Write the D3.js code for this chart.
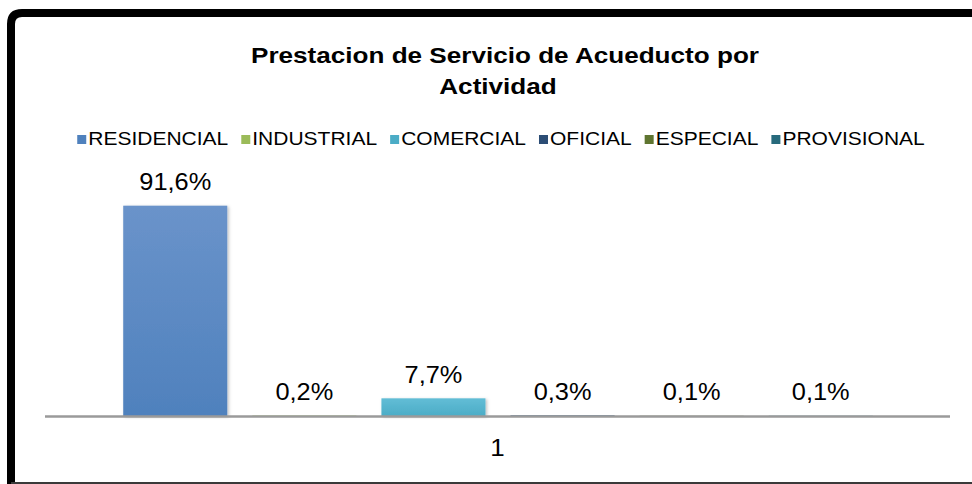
<!DOCTYPE html>
<html>
<head>
  <meta charset="utf-8">
  <title>Prestacion de Servicio de Acueducto por Actividad</title>
  <script src="https://d3js.org/d3.v7.min.js"></script>
  <style>
    body { margin: 0; background: #fff; }
    text { font-family: "Liberation Sans", Arial, sans-serif; fill: #000; }
  </style>
</head>
<body>
<script>
  const width = 972;
  const height = 484;

  // data
  const categories = ["1"];
  const series = ["RESIDENCIAL", "INDUSTRIAL", "COMERCIAL", "OFICIAL", "ESPECIAL", "PROVISIONAL"];
  const values = [91.6, 0.2, 7.7, 0.3, 0.1, 0.1];
  const colors = ["#4F81BD", "#9BBB59", "#4BACC6", "#2C4D75", "#5F7530", "#276A7C"];
  const lightColors = ["#6A93CA", "#AECB72", "#62BDD6", "#3F6592", "#778F45", "#3A8497"];
  const titleLines = ["Prestacion de Servicio de Acueducto por", "Actividad"];

  const fmt = v => d3.format(".1f")(v).replace(".", ",") + "%";

  const svg = d3.select("body")
    .append("svg")
    .attr("width", width)
    .attr("height", height);

  const defs = svg.append("defs");
  series.forEach((s, i) => {
    const g = defs.append("linearGradient")
      .attr("id", "grad" + i)
      .attr("x1", 0).attr("y1", 0).attr("x2", 0).attr("y2", 1);
    g.append("stop").attr("offset", "0%").attr("stop-color", lightColors[i]);
    g.append("stop").attr("offset", "100%").attr("stop-color", colors[i]);
  });
  defs.append("filter").attr("id", "shadow")
    .attr("x", "-10%").attr("y", "-10%").attr("width", "130%").attr("height", "130%")
    .append("feDropShadow")
    .attr("dx", 1.5).attr("dy", 1).attr("stdDeviation", 1.5)
    .attr("flood-color", "#000").attr("flood-opacity", 0.25);

  // frame (runs off the right edge like the original)
  svg.append("path")
    .attr("d", "M11,490 L11,24 Q11,13 22,13 L990,13")
    .attr("fill", "none")
    .attr("stroke", "#000")
    .attr("stroke-width", 8);
  svg.append("line")
    .attr("x1", 11).attr("x2", width)
    .attr("y1", 483).attr("y2", 483)
    .attr("stroke", "#3a3a3a")
    .attr("stroke-width", 2);

  // horizontally stretched text like the source picture
  function stretchText(sel, x, y, sx, anchor) {
    return sel.append("text")
      .attr("transform", `translate(${x},${y}) scale(${sx},1)`)
      .attr("text-anchor", anchor || "middle");
  }

  // title
  stretchText(svg, 505, 62.5, 1.16)
    .attr("font-size", 22.5).attr("font-weight", "bold")
    .text(titleLines[0]);
  stretchText(svg, 498, 93.5, 1.16)
    .attr("font-size", 22.5).attr("font-weight", "bold")
    .text(titleLines[1]);

  // scales
  const x0 = d3.scaleBand()
    .domain(categories)
    .range([45, 950]);

  const groupCenter = x0(categories[0]) + x0.bandwidth() / 2 + 0.5;
  const step = 129.1;
  const x1 = d3.scaleBand()
    .domain(series)
    .range([groupCenter - 3 * step, groupCenter + 3 * step])
    .paddingInner(0.194)
    .paddingOuter(0.097);

  const y = d3.scaleLinear()
    .domain([0, 100])
    .range([416, 186.4]);

  // bars
  svg.append("g")
    .selectAll("rect")
    .data(values)
    .join("rect")
    .attr("x", (d, i) => x1(series[i]))
    .attr("y", d => y(d))
    .attr("width", x1.bandwidth())
    .attr("height", d => y(0) - y(d))
    .attr("fill", (d, i) => `url(#grad${i})`)
    .attr("filter", "url(#shadow)");

  // axis line + category label
  const xAxis = svg.append("g")
    .attr("transform", `translate(0,${y(0)})`)
    .call(d3.axisBottom(x0).tickSize(0).tickPadding(0));
  xAxis.select(".domain")
    .attr("d", `M45,0.5H950`)
    .attr("stroke", "#9a9a9a")
    .attr("stroke-width", 2.5);
  xAxis.selectAll(".tick text").remove();
  xAxis.selectAll(".tick").each(function(d) {
    stretchText(d3.select(this), 0, 40, 1.08)
      .attr("font-size", 24)
      .text(d);
  });

  // data labels
  const labels = svg.append("g");
  values.forEach((v, i) => {
    stretchText(labels, x1(series[i]) + x1.bandwidth() / 2, y(v) - 15.5, 1.08)
      .attr("font-size", 23.5)
      .text(fmt(v));
  });

  // legend
  const legend = svg.append("g");
  const sx = 1.13;
  let cursor = 0;
  series.forEach((s, i) => {
    const it = legend.append("g");
    it.append("rect")
      .attr("x", cursor).attr("y", -10)
      .attr("width", 9).attr("height", 9)
      .attr("fill", colors[i]);
    const t = stretchText(it, cursor + 11, 0, sx, "start")
      .attr("font-size", 18.6)
      .text(s);
    const w = t.node().getComputedTextLength() * sx;
    cursor += 11 + w + 13;
  });
  const total = cursor - 13;
  legend.attr("transform", `translate(${501 - total / 2},145)`);
</script>
</body>
</html>
